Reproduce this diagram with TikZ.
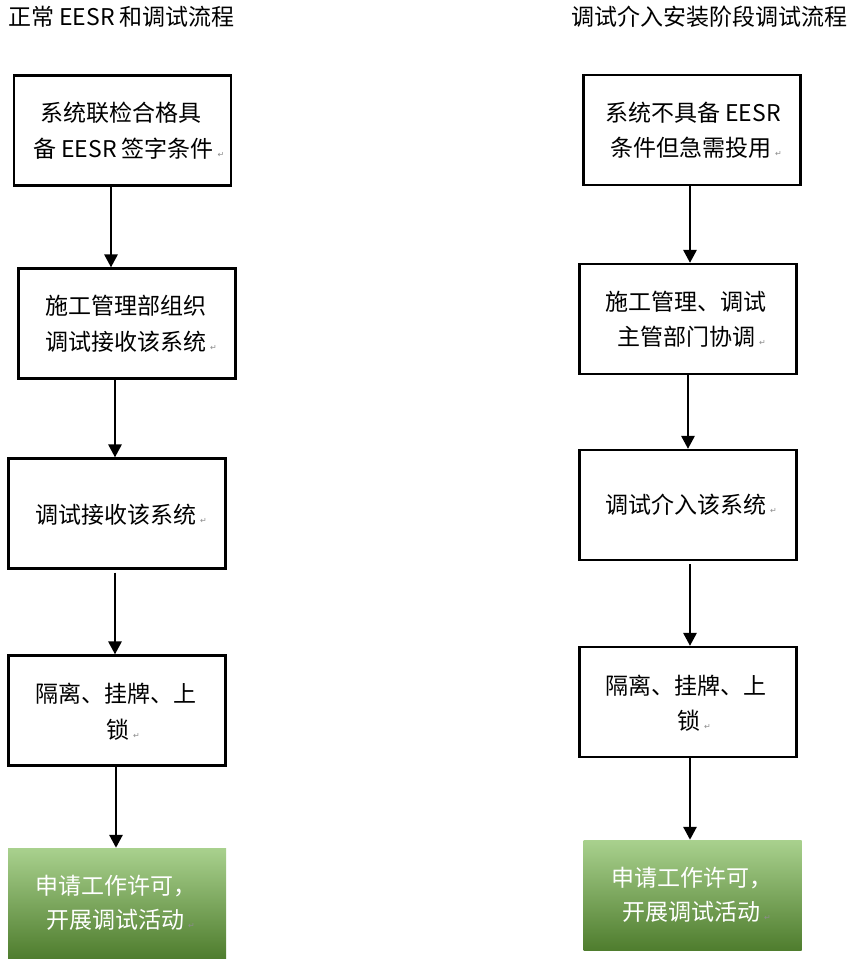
\documentclass[tikz,border=0pt]{standalone}
\usepackage{fontspec}
\newfontfamily\cjk{Noto Sans CJK SC}
\newfontfamily\dvsans{DejaVu Sans}
\usetikzlibrary{arrows.meta}
\definecolor{gtop}{HTML}{A9D18E}
\definecolor{gmid}{HTML}{74B046}
\definecolor{gbot}{HTML}{4F7D2E}
\definecolor{retgray}{HTML}{8C8C8C}
\newcommand{\retmark}{\,{\dvsans\color{retgray}\fontsize{8}{8}\selectfont ↵}}
\begin{document}
\begin{tikzpicture}[x=1pt,y=-1pt,
  boxed/.style={draw=black, line width=2.2pt, inner sep=0pt, minimum width=217pt, minimum height=110pt},
  greenbox/.style={draw=none, inner sep=0pt, minimum width=218pt, minimum height=110pt, top color=gtop, middle color=gmid, bottom color=gbot},
  txt/.style={inner sep=0pt, anchor=west, font=\cjk\fontsize{23}{26}\selectfont},
  wtxt/.style={txt, text=white},
  ttl/.style={inner sep=0pt, anchor=west, font=\cjk\fontsize{23}{26}\selectfont},
  arr/.style={line width=2.8pt, -{Triangle[width=13pt,length=13pt]}}]
\useasboundingbox (0,0) rectangle (858,962);
\fill[white] (0,0) rectangle (858,962);

% titles
\node[ttl] (tl) at (8,17) {正常 EESR 和调试流程};
\node[ttl] (tr) at (571,17) {调试介入安装阶段调试流程};

% left column boxes
\node[boxed] (l1) at (122.5,130.5) {};
\node[boxed] (l2) at (127,323.5) {};
\node[boxed] (l3) at (117,513.5) {};
\node[boxed] (l4) at (117,710.5) {};
\node[greenbox] (l5) at (117,903) {};

% right column boxes
\node[boxed] (r1) at (692,130) {};
\node[boxed] (r2) at (688,319) {};
\node[boxed] (r3) at (688,505) {};
\node[boxed] (r4) at (688,702) {};
\node[greenbox] (r5) at (692.5,895) {};

% left texts
\node[txt] (l1a) at (40,113) {系统联检合格具};
\node[txt] (l1b) at (33,149) {备 EESR 签字条件\retmark};
\node[txt] (l2a) at (45,306) {施工管理部组织};
\node[txt] (l2b) at (45,342) {调试接收该系统\retmark};
\node[txt] (l3a) at (35,515) {调试接收该系统\retmark};
\node[txt] (l4a) at (35,694) {隔离、挂牌、上};
\node[txt] (l4b) at (106,730) {锁\retmark};
\node[wtxt] (l5a) at (35,886) {申请工作许可，};
\node[wtxt] (l5b) at (46,920) {开展调试活动\retmark};

% right texts
\node[txt] (r1a) at (605,113) {系统不具备 EESR};
\node[txt] (r1b) at (610,148) {条件但急需投用\retmark};
\node[txt] (r2a) at (605,302) {施工管理、调试};
\node[txt] (r2b) at (617,337) {主管部门协调\retmark};
\node[txt] (r3a) at (605,505) {调试介入该系统\retmark};
\node[txt] (r4a) at (605,686) {隔离、挂牌、上};
\node[txt] (r4b) at (677,721) {锁\retmark};
\node[wtxt] (r5a) at (611,878) {申请工作许可，};
\node[wtxt] (r5b) at (622,912) {开展调试活动\retmark};

% left arrows
\draw[arr] ([xshift=-11.5pt]l1.south) -- ([xshift=-16pt]l2.north);
\draw[arr] ([xshift=-12pt]l2.south) -- ([xshift=-2pt]l3.north);
\draw[arr] ([xshift=-2pt,yshift=-3pt]l3.south) -- ([xshift=-2pt]l4.north);
\draw[arr] ([xshift=-1pt]l4.south) -- ([xshift=-1pt]l5.north);

% right arrows
\draw[arr] ([xshift=-2pt]r1.south) -- ([xshift=2pt]r2.north);
\draw[arr] (r2.south) -- (r3.north);
\draw[arr] ([xshift=2pt,yshift=-3pt]r3.south) -- ([xshift=2pt]r4.north);
\draw[arr] ([xshift=2pt]r4.south) -- ([xshift=-2.5pt]r5.north);
\end{tikzpicture}
\end{document}
